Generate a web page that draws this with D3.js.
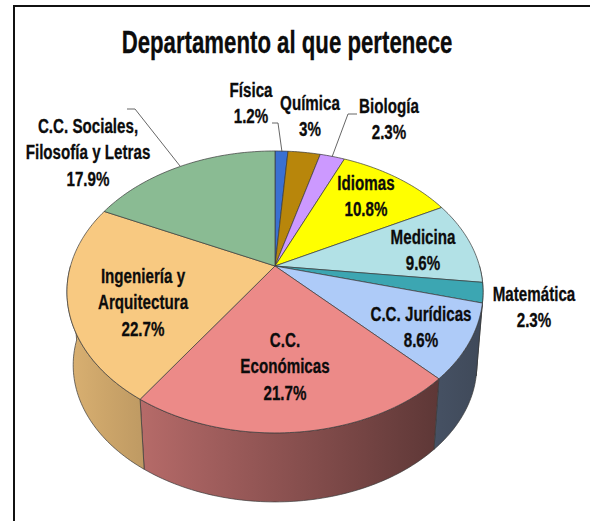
<!DOCTYPE html>
<html><head><meta charset="utf-8">
<script src="https://cdnjs.cloudflare.com/ajax/libs/d3/7.8.5/d3.min.js"></script>
<style>html,body{margin:0;padding:0;background:#fff}svg{display:block}
text{font-family:"Liberation Sans",Arial,sans-serif;font-weight:bold;fill:#0c0c0c;stroke:#0c0c0c;stroke-width:.3;text-anchor:middle}</style>
</head><body><div id="c"></div>
<script>
const titleText = "Departamento al que pertenece";
const categories = ["Física","Química","Biología","Idiomas","Medicina","Matemática","C.C. Jurídicas","C.C. Económicas","Ingeniería y Arquitectura","C.C. Sociales, Filosofía y Letras"];
const values = [1.2,3,2.3,10.8,9.6,2.3,8.6,21.7,22.7,17.9];
const valueLabels = ["1.2%","3%","2.3%","10.8%","9.6%","2.3%","8.6%","21.7%","22.7%","17.9%"];
const colors = ["#3a70d2","#b8860b","#cc99ff","#ffff00","#b2e1e6","#3ca6b2","#aecbf8","#ec8a88","#f8c981","#8abb93"];
const nameLines = [["Física"],["Química"],["Biología"],["Idiomas"],["Medicina"],["Matemática"],["C.C. Jurídicas"],["C.C.","Económicas"],["Ingeniería y","Arquitectura"],["C.C. Sociales,","Filosofía y Letras"]];
// layout only
const labelX = [251,310,389,366,423,534,421,285,143,88];
const labelY = [97,110,113,190,244,301,321,347,283,133];
const leaders = {0:[[272,123],[278,123],[282,152]],2:[[357,114],[348,114],[332,157]],9:[[127,109],[135,109],[180,166]]};

const W=590,H=521;
const svg=d3.select("#c").append("svg").attr("width",W).attr("height",H);
svg.append("path").attr("d",d3.line()([[14,H],[14,6],[W,6]])).attr("fill","none").attr("stroke","#111").attr("stroke-width",2);

// perspective projection of the unit disc
const cx=275, topY=266, a=204.5, b=136.2, k=0.184, baseScale=0.97, baseY=340;
const project=(ang,r,s,y0)=>{const x=r*Math.sin(ang),y=-r*Math.cos(ang),d=1-k*y;
  return [cx+s*a*x/d, y0+s*b*y/d];};
const arcPts=(a0,a1,s,y0)=>{const n=Math.max(2,Math.ceil((a1-a0)/0.02));
  return d3.range(n+1).map(i=>project(a0+(a1-a0)*i/n,1,s,y0));};
const pie=d3.pie().sort(null).value(d=>d)(values);
const line=d3.line();
const defs=svg.append("defs");
const shade=d3.scaleLinear().domain([67,140,437,483]).range([.88,.77,.40,.36]);
pie.forEach((p,i)=>{
  const g=defs.append("linearGradient").attr("id","w"+i).attr("gradientUnits","userSpaceOnUse")
    .attr("x1",67).attr("x2",483).attr("y1",0).attr("y2",0);
  d3.range(0,1.001,.1).forEach(t=>{const x=67+416*t,c=d3.rgb(colors[i]),f=shade(x);
    g.append("stop").attr("offset",t).attr("stop-color",d3.rgb(c.r*f,c.g*f,c.b*f));});
});
const stroke="#3a3a3a";
// walls: front-facing part only
pie.forEach((p,i)=>{
  const a0=Math.max(p.startAngle,Math.PI/2), a1=Math.min(p.endAngle,Math.PI*1.5);
  if(a1<=a0) return;
  const pts=arcPts(a0,a1,1,topY).concat(arcPts(a0,a1,baseScale,baseY).reverse());
  svg.append("path").attr("d",line(pts)+"Z").attr("fill",`url(#w${i})`).attr("stroke",stroke).attr("stroke-width",.7);
});
// top face
pie.forEach((p,i)=>{
  const pts=[[cx,topY],...arcPts(p.startAngle,p.endAngle,1,topY)];
  svg.append("path").attr("d",line(pts)+"Z").attr("fill",colors[i]).attr("stroke",stroke).attr("stroke-width",.7);
});
// leaders
Object.values(leaders).forEach(l=>svg.append("path").attr("d",line(l)).attr("fill","none").attr("stroke","#555").attr("stroke-width",.9));
// text
const sx=0.74, lineH=26.3;
svg.append("text").attr("transform","translate(287,53) scale(.705,1)").attr("font-size",31.5).text(titleText);
categories.forEach((c,i)=>{
  const t=svg.append("text").attr("font-size",20.5).attr("transform",`translate(${labelX[i]},${labelY[i]}) scale(${sx},1)`);
  nameLines[i].concat(valueLabels[i]).forEach((s,j)=>t.append("tspan").attr("x",0).attr("y",j*lineH).text(s));
});
</script></body></html>
